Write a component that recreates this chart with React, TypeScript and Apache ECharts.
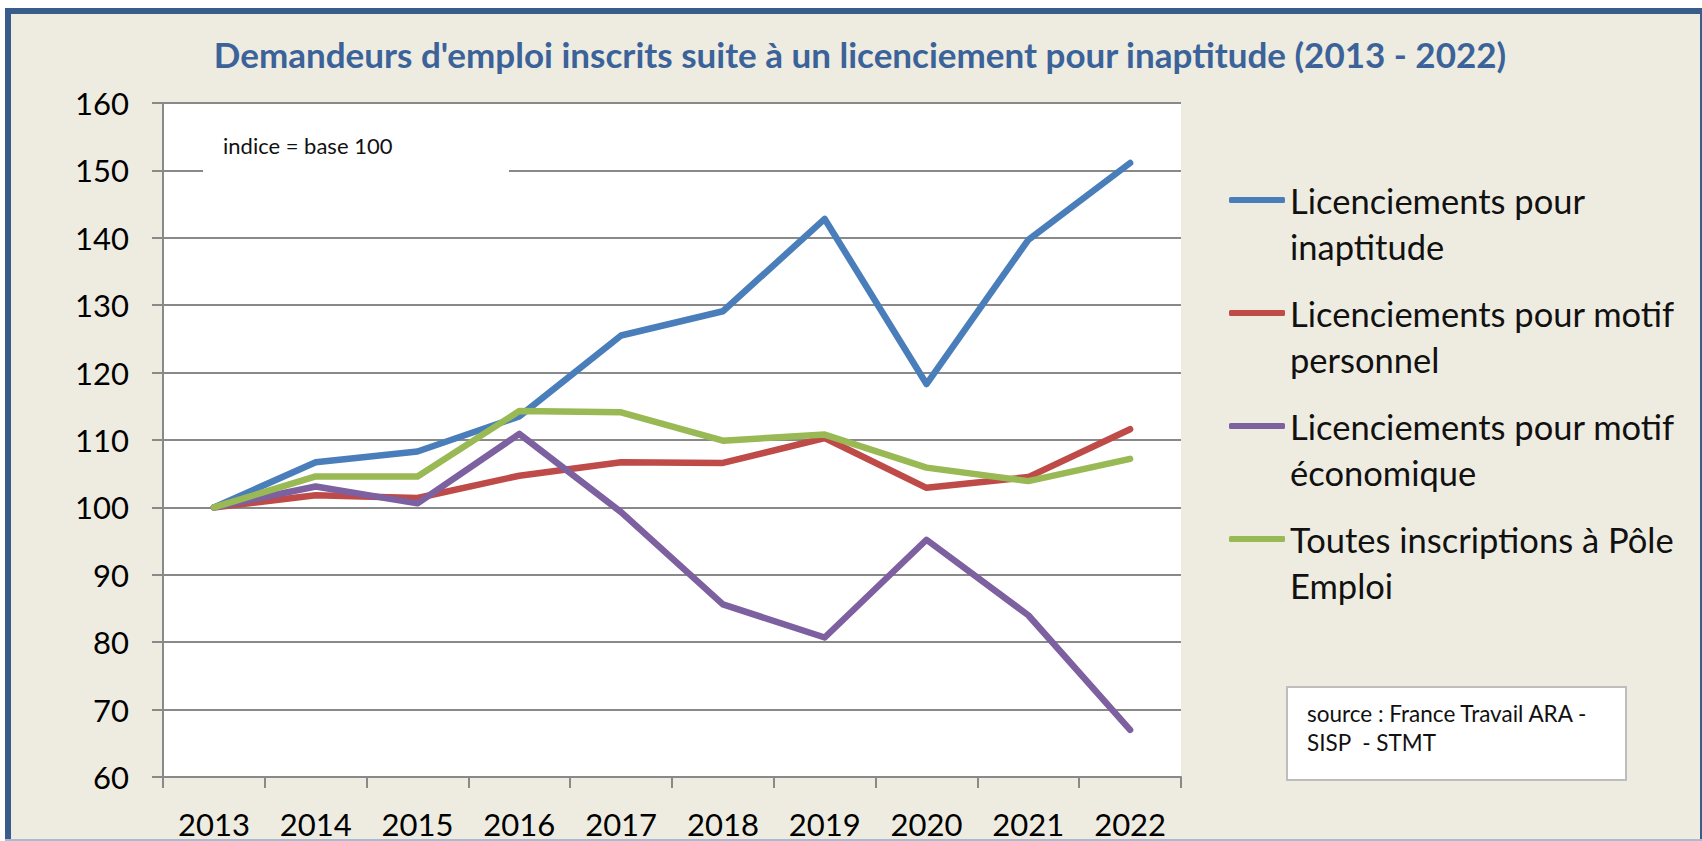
import React, { useEffect, useRef } from "react";
import * as echarts from "echarts";

const years = ["2013", "2014", "2015", "2016", "2017", "2018", "2019", "2020", "2021", "2022"];
const seriesNames = [
  "Licenciements pour inaptitude",
  "Licenciements pour motif personnel",
  "Licenciements pour motif économique",
  "Toutes inscriptions à Pôle Emploi",
];
const legendLabels = [
  "Licenciements pour\ninaptitude",
  "Licenciements pour motif\npersonnel",
  "Licenciements pour motif\néconomique",
  "Toutes inscriptions à Pôle\nEmploi",
];
const inaptitude = [100, 106.7, 108.3, 113.5, 125.5, 129.1, 142.8, 118.3, 139.7, 151.1];
const motifPersonnel = [100, 101.8, 101.4, 104.7, 106.7, 106.6, 110.3, 102.9, 104.5, 111.6];
const motifEconomique = [100, 103.1, 100.6, 110.9, 99.3, 85.6, 80.7, 95.2, 84.0, 67.0];
const toutesInscriptions = [100, 104.6, 104.6, 114.3, 114.1, 109.9, 110.8, 105.9, 103.9, 107.2];
const seriesColors = ["#4A7EBB", "#BE4B48", "#7D60A0", "#98B954"];
const yMin = 60;
const yMax = 160;
const yInterval = 10;

const titleText = "Demandeurs d'emploi inscrits suite à un licenciement pour inaptitude (2013 - 2022)";
const noteText = "indice = base 100";
const sourceLines = ["source : France Travail ARA -", "SISP  - STMT"];

const FONT = "Lato, 'Open Sans', sans-serif";

export default function App() {
  const ref = useRef<HTMLDivElement>(null);

  useEffect(() => {
    if (!ref.current) return;
    const chart = echarts.init(ref.current, null, { renderer: "svg" });
    const values = [inaptitude, motifPersonnel, motifEconomique, toutesInscriptions];

    chart.setOption({
      animation: false,
      backgroundColor: "#EEECE1",
      title: {
        text: titleText,
        left: 860,
        top: 36,
        textAlign: "center",
        padding: 0,
        textStyle: { fontFamily: FONT, fontSize: 35, fontWeight: "bold", color: "#3B6399" },
      },
      grid: {
        left: 163,
        right: 521,
        top: 103,
        bottom: 64,
        show: true,
        backgroundColor: "#FFFFFF",
        borderWidth: 0,
      },
      legend: {
        data: seriesNames,
        orient: "vertical",
        left: 1229,
        top: 131,
        padding: 0,
        itemGap: -25,
        itemWidth: 56,
        itemHeight: 6,
        icon: "roundRect",
        selectedMode: false,
        formatter: (name: string) => "\n" + legendLabels[seriesNames.indexOf(name)],
        textStyle: {
          fontFamily: FONT,
          fontSize: 34.5,
          color: "#111111",
          lineHeight: 46,
        },
      },
      xAxis: {
        type: "category",
        data: years,
        boundaryGap: true,
        axisLine: { show: true, lineStyle: { color: "#898989", width: 2 } },
        axisTick: { show: true, length: 11, lineStyle: { color: "#898989", width: 2 } },
        axisLabel: { fontFamily: FONT, fontSize: 31, color: "#000000", margin: 31 },
        splitLine: { show: false },
      },
      yAxis: {
        type: "value",
        min: yMin,
        max: yMax,
        interval: yInterval,
        axisLine: { show: true, lineStyle: { color: "#898989", width: 2 } },
        axisTick: { show: true, length: 11, lineStyle: { color: "#898989", width: 2 } },
        axisLabel: { fontFamily: FONT, fontSize: 31, color: "#000000", margin: 34 },
        splitLine: { show: true, lineStyle: { color: "#898989", width: 2 } },
      },
      series: seriesNames.map((name, i) => ({
        name,
        type: "line",
        data: values[i],
        showSymbol: false,
        symbol: "none",
        color: seriesColors[i],
        lineStyle: { width: 6.5, color: seriesColors[i], cap: "round", join: "round" },
        itemStyle: { color: seriesColors[i] },
      })),
      graphic: [
        { type: "rect", z: 100, shape: { x: 0, y: 0, width: 1702, height: 8 }, style: { fill: "#FFFFFF" } },
        { type: "rect", z: 100, shape: { x: 0, y: 0, width: 5, height: 841 }, style: { fill: "#FFFFFF" } },
        { type: "rect", z: 101, shape: { x: 5, y: 8, width: 1697, height: 6 }, style: { fill: "#385D8A" } },
        { type: "rect", z: 101, shape: { x: 5, y: 8, width: 6, height: 833 }, style: { fill: "#385D8A" } },
        { type: "rect", z: 101, shape: { x: 1700, y: 8, width: 2, height: 833 }, style: { fill: "#385D8A" } },
        { type: "rect", z: 101, shape: { x: 5, y: 839, width: 1697, height: 2 }, style: { fill: "#A9BBD0" } },
        {
          type: "rect",
          z: 50,
          shape: { x: 203, y: 120, width: 306, height: 56 },
          style: { fill: "#FFFFFF" },
        },
        {
          type: "text",
          z: 51,
          x: 223,
          y: 145,
          style: {
            text: noteText,
            fontFamily: FONT,
            fontSize: 22,
            fill: "#111111",
            verticalAlign: "middle",
          },
        },
        {
          type: "rect",
          z: 50,
          shape: { x: 1287, y: 687, width: 339, height: 93 },
          style: { fill: "#FFFFFF", stroke: "#BDBDBD", lineWidth: 2 },
        },
        {
          type: "text",
          z: 51,
          x: 1307,
          y: 699,
          style: {
            text: sourceLines.join("\n"),
            fontFamily: FONT,
            fontSize: 22.5,
            lineHeight: 29,
            fill: "#111111",
            verticalAlign: "top",
          },
        },
      ],
    });

    return () => chart.dispose();
  }, []);

  return (
    <div
      ref={ref}
      style={{ position: "fixed", left: 0, top: 0, width: 1702, height: 841 }}
    />
  );
}
